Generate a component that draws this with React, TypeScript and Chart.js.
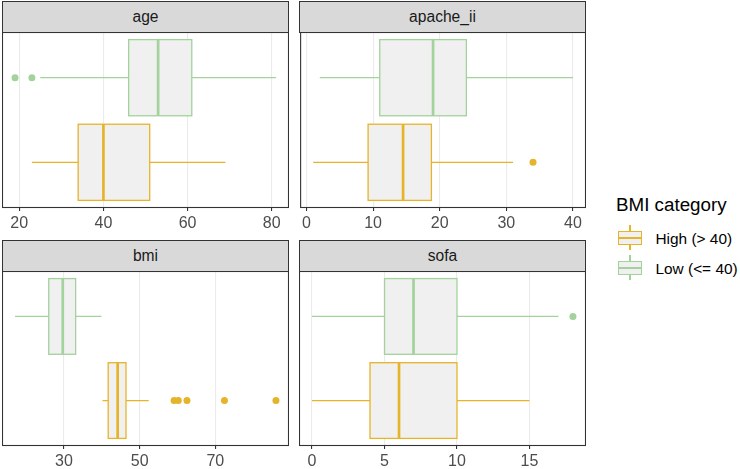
import React, { useEffect, useRef } from 'react';
import { Chart, registerables } from 'chart.js';
Chart.register(...registerables);

const FONT = '"Liberation Sans", Arial, Helvetica, sans-serif';

// Groups (index 0 = top row of each panel)
const groupNames = ['Low (<= 40)', 'High (> 40)'];
const legendOrder = ['High (> 40)', 'Low (<= 40)'];
const groupColors = ['#A3D29C', '#E6B42A'];
const legendColors = ['#E6B42A', '#A3D29C'];
const legendTitle = 'BMI category';

const facetNames = ['age', 'apache_ii', 'bmi', 'sofa'];

// five-number summaries: [lower whisker, Q1, median, Q3, upper whisker]
const ageLow = [25, 46, 53, 61, 81];
const ageHigh = [23, 34, 40, 51, 69];
const ageLowOutliers = [19, 23];
const ageHighOutliers: number[] = [];

const apacheLow = [2, 11, 19, 24, 40];
const apacheHigh = [1, 9.25, 14.5, 18.75, 31];
const apacheLowOutliers: number[] = [];
const apacheHighOutliers = [34];

const bmiLow = [17.1, 26, 29.7, 33.1, 39.9];
const bmiHigh = [40.2, 41.7, 44.2, 46.4, 52.4];
const bmiLowOutliers: number[] = [];
const bmiHighOutliers = [59.1, 60.2, 62.5, 72.4, 86];

const sofaLow = [0, 5, 7, 10, 17];
const sofaHigh = [0, 4, 6, 10, 15];
const sofaLowOutliers = [18];
const sofaHighOutliers: number[] = [];

const ageTicks = [20, 40, 60, 80];
const apacheTicks = [0, 10, 20, 30, 40];
const bmiTicks = [30, 50, 70];
const sofaTicks = [0, 5, 10, 15];

const BOX_HALF = 0.45;
const AXIS_H = 30;

type PanelProps = {
  name: string;
  stats: number[][];
  outliers: number[][];
  ticks: number[];
  left: number;
  top: number;
  width: number;
  height: number;
};

const boxPlugin = {
  id: 'boxes',
  beforeDatasetsDraw(chart: any) {
    const stats: number[][] = chart.options.plugins.boxes.stats;
    const xs = chart.scales.x;
    const ys = chart.scales.y;
    const ctx = chart.ctx;
    ctx.save();
    stats.forEach((s, i) => {
      const color = groupColors[i];
      const c = ys.getPixelForValue(i);
      const y0 = ys.getPixelForValue(i - BOX_HALF);
      const y1 = ys.getPixelForValue(i + BOX_HALF);
      const [lo, q1, med, q3, hi] = s.map((v) => xs.getPixelForValue(v));
      ctx.strokeStyle = color;
      ctx.lineWidth = 1.3;
      ctx.beginPath();
      ctx.moveTo(lo, c);
      ctx.lineTo(q1, c);
      ctx.moveTo(q3, c);
      ctx.lineTo(hi, c);
      ctx.stroke();
      const top = Math.min(y0, y1);
      const h = Math.abs(y1 - y0);
      ctx.fillStyle = '#F0F0F0';
      ctx.fillRect(q1, top, q3 - q1, h);
      ctx.strokeRect(q1, top, q3 - q1, h);
      ctx.lineWidth = 2.7;
      ctx.beginPath();
      ctx.moveTo(med, top);
      ctx.lineTo(med, top + h);
      ctx.stroke();
    });
    ctx.restore();
  },
  afterDraw(chart: any) {
    const a = chart.chartArea;
    const ctx = chart.ctx;
    ctx.save();
    ctx.strokeStyle = '#333333';
    ctx.lineWidth = 1.1;
    ctx.strokeRect(a.left + 0.5, a.top + 0.5, a.right - a.left - 1, a.bottom - a.top - 1);
    ctx.restore();
  },
};

function Panel({ name, stats, outliers, ticks, left, top, width, height }: PanelProps) {
  const ref = useRef<HTMLCanvasElement>(null);
  useEffect(() => {
    const all = stats.flat().concat(outliers.flat());
    const mn = Math.min(...all);
    const mx = Math.max(...all);
    const pad = (mx - mn) * 0.05;
    const chart = new Chart(ref.current!, {
      type: 'scatter',
      data: {
        datasets: outliers.map((arr, i) => ({
          label: groupNames[i],
          data: arr.map((v) => ({ x: v, y: i })),
          backgroundColor: groupColors[i],
          borderWidth: 0,
          pointRadius: 3.5,
        })),
      },
      options: {
        animation: false,
        responsive: false,
        events: [],
        layout: { padding: 0, autoPadding: false },
        plugins: {
          legend: { display: false },
          tooltip: { enabled: false },
          boxes: { stats },
        } as any,
        scales: {
          x: {
            type: 'linear',
            min: mn - pad,
            max: mx + pad,
            afterBuildTicks: (s: any) => {
              s.ticks = ticks.map((v) => ({ value: v }));
            },
            afterFit: (s: any) => {
              s.height = AXIS_H;
            },
            grid: {
              color: '#EBEBEB',
              lineWidth: 1.1,
              tickColor: '#333333',
              tickLength: 3,
              drawTicks: true,
            },
            border: { display: false },
            ticks: {
              color: '#4D4D4D',
              font: { family: FONT, size: 16 },
              padding: 3,
              autoSkip: false,
              maxRotation: 0,
              callback: (v: any) => String(v),
            },
          },
          y: {
            type: 'linear',
            display: false,
            reverse: true,
            min: -0.54,
            max: 1.54,
          },
        },
      },
      plugins: [boxPlugin],
    });
    return () => chart.destroy();
  }, []);
  return (
    <>
      <div
        style={{
          position: 'absolute',
          left,
          top: top - 31,
          width,
          height: 32,
          boxSizing: 'border-box',
          border: '1.1px solid #333333',
          background: '#D9D9D9',
          color: '#1A1A1A',
          fontFamily: FONT,
          fontSize: 15.6,
          display: 'flex',
          alignItems: 'center',
          justifyContent: 'center',
        }}
      >
        {name}
      </div>
      <canvas
        ref={ref}
        width={width}
        height={height + AXIS_H}
        style={{ position: 'absolute', left, top, width, height: height + AXIS_H }}
      />
    </>
  );
}

function LegendKey({ color, top }: { color: string; top: number }) {
  return (
    <>
      <div style={{ position: 'absolute', left: 629.4, top, width: 1.3, height: 6, background: color }} />
      <div
        style={{
          position: 'absolute',
          left: 618,
          top: top + 6,
          width: 24,
          height: 14,
          boxSizing: 'border-box',
          border: `1.3px solid ${color}`,
          background: '#F0F0F0',
        }}
      />
      <div style={{ position: 'absolute', left: 618, top: top + 12, width: 24, height: 1.8, background: color }} />
      <div style={{ position: 'absolute', left: 629.4, top: top + 20, width: 1.3, height: 5, background: color }} />
    </>
  );
}

export default function App() {
  return (
    <div
      style={{
        position: 'absolute',
        left: 0,
        top: 0,
        width: 740,
        height: 469,
        background: '#FFFFFF',
        overflow: 'hidden',
      }}
    >
      <Panel name={facetNames[0]} stats={[ageLow, ageHigh]} outliers={[ageLowOutliers, ageHighOutliers]} ticks={ageTicks} left={2} top={32} width={287} height={176} />
      <Panel name={facetNames[1]} stats={[apacheLow, apacheHigh]} outliers={[apacheLowOutliers, apacheHighOutliers]} ticks={apacheTicks} left={299} top={32} width={287} height={176} />
      <Panel name={facetNames[2]} stats={[bmiLow, bmiHigh]} outliers={[bmiLowOutliers, bmiHighOutliers]} ticks={bmiTicks} left={2} top={271} width={287} height={175} />
      <Panel name={facetNames[3]} stats={[sofaLow, sofaHigh]} outliers={[sofaLowOutliers, sofaHighOutliers]} ticks={sofaTicks} left={299} top={271} width={287} height={175} />
      <div style={{ position: 'absolute', left: 616, top: 194, fontFamily: FONT, fontSize: 18.8, color: '#000', whiteSpace: 'nowrap' }}>
        {legendTitle}
      </div>
      <LegendKey color={legendColors[0]} top={225} />
      <LegendKey color={legendColors[1]} top={255} />
      <div style={{ position: 'absolute', left: 655.5, top: 230, fontFamily: FONT, fontSize: 15.4, color: '#000', whiteSpace: 'nowrap' }}>
        {legendOrder[0]}
      </div>
      <div style={{ position: 'absolute', left: 655.5, top: 260, fontFamily: FONT, fontSize: 15.4, color: '#000', whiteSpace: 'nowrap' }}>
        {legendOrder[1]}
      </div>
    </div>
  );
}
